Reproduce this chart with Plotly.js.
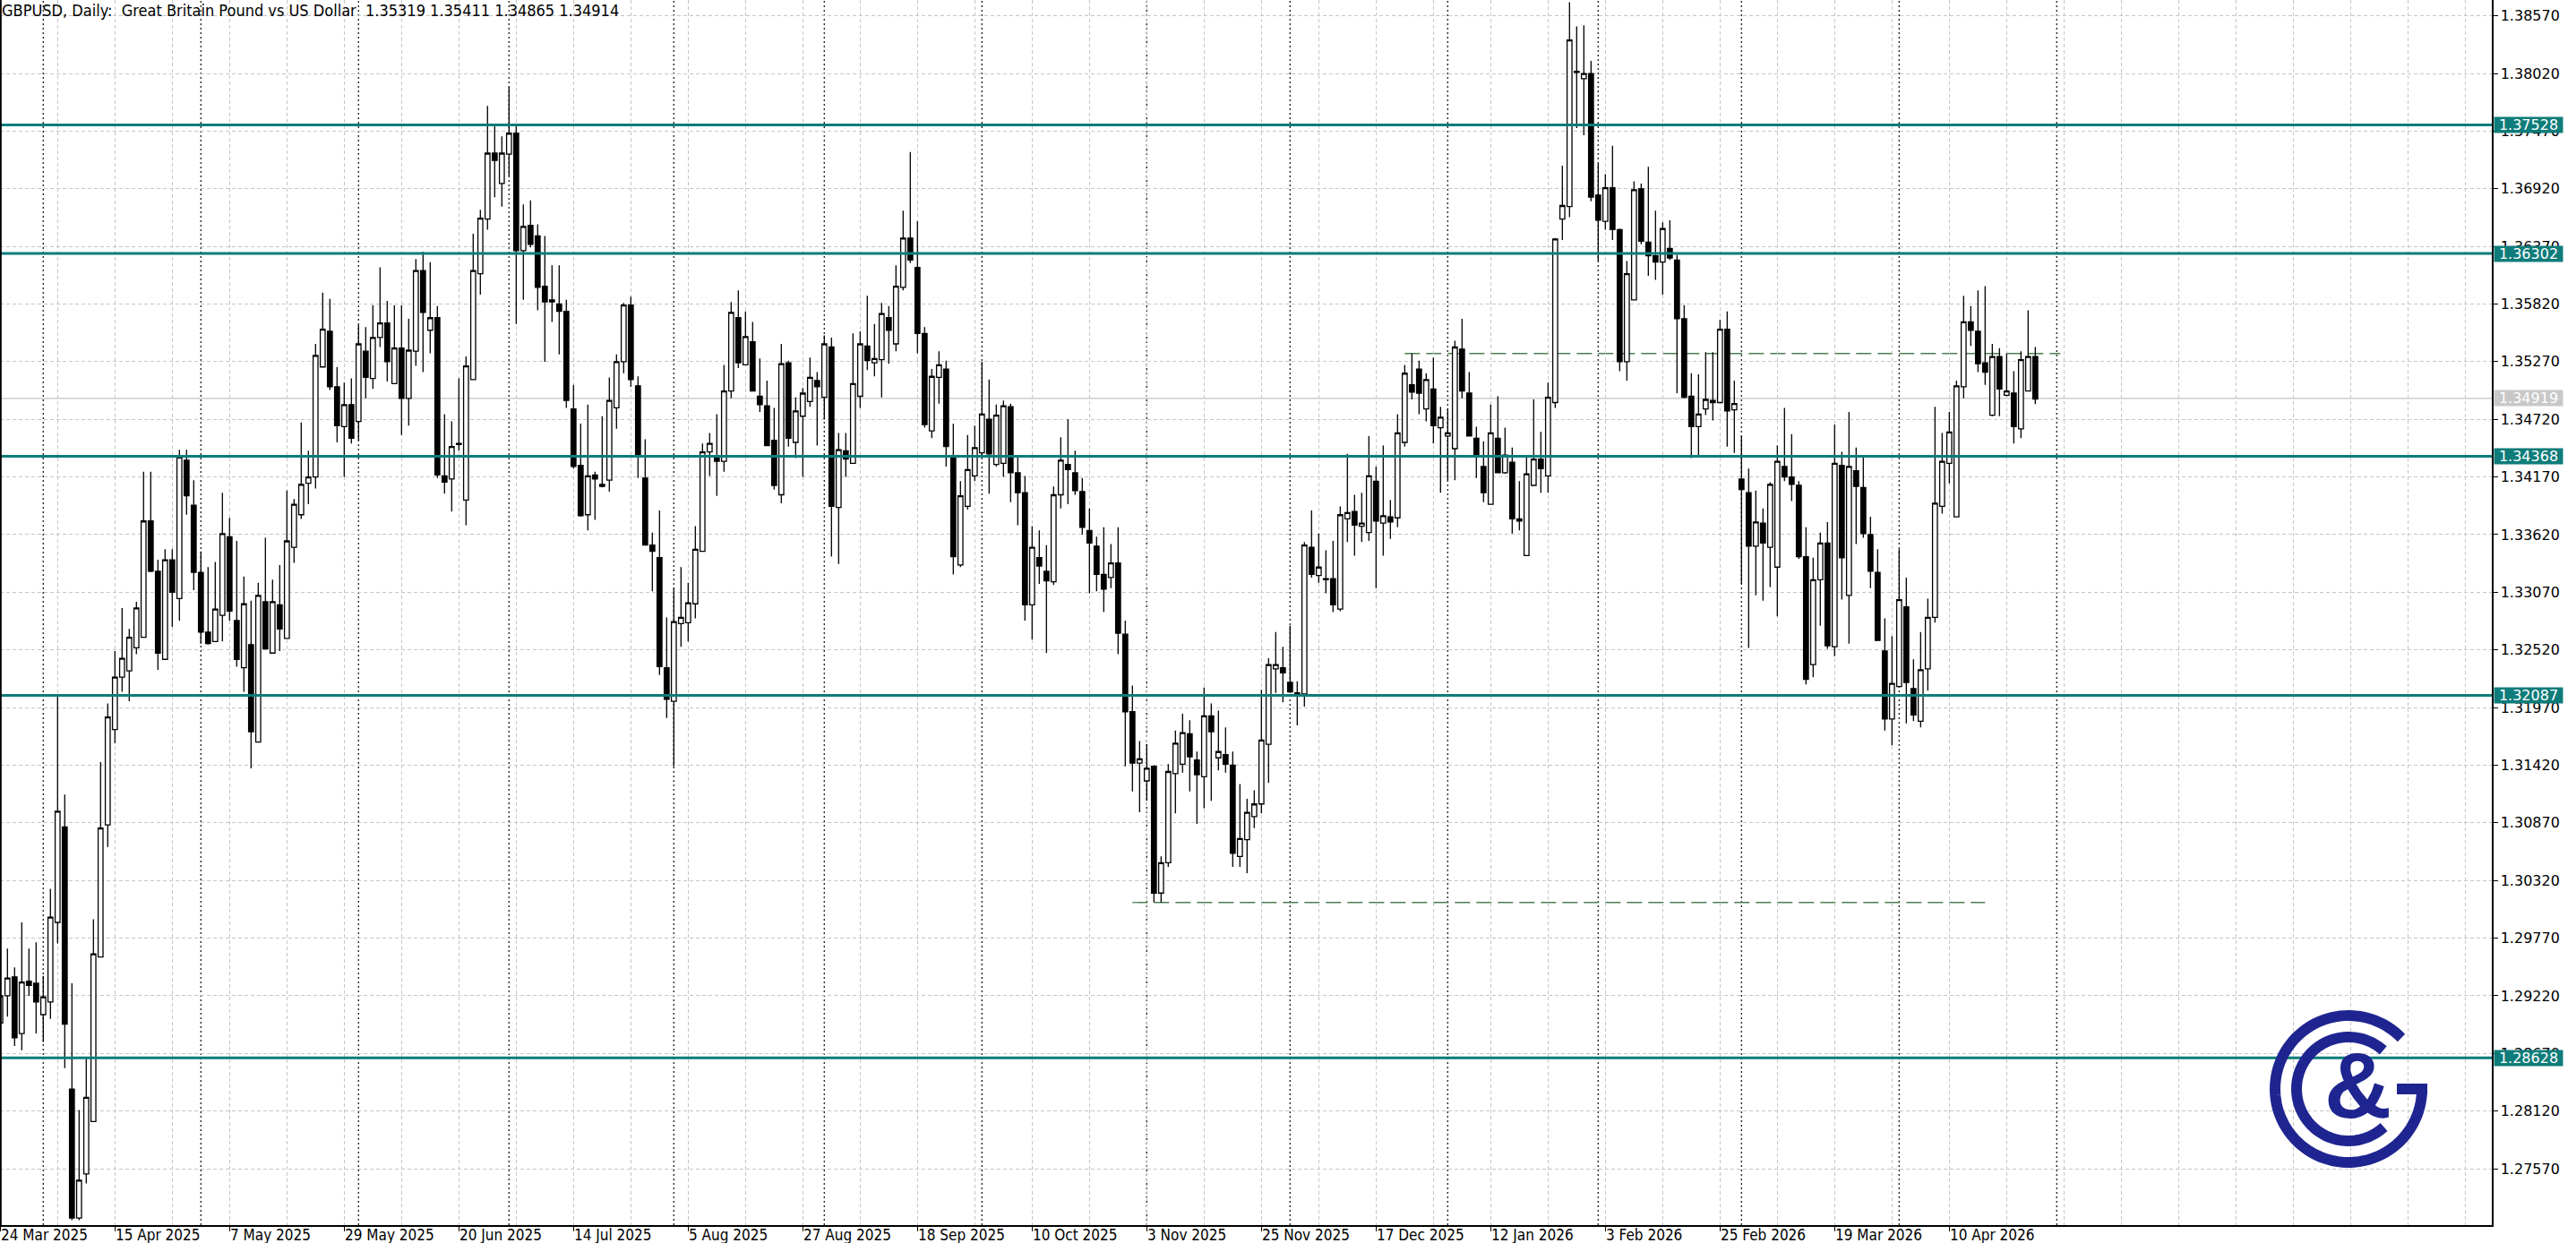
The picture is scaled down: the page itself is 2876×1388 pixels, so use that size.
<!DOCTYPE html>
<html>
<head>
<meta charset="utf-8">
<script src="https://cdn.plot.ly/plotly-3.0.1.min.js"></script>
<style>
  html, body { margin: 0; padding: 0; background: #ffffff; }
  #chart { width: 2876px; height: 1388px; }
</style>
</head>
<body>
<div id="chart"></div>
<script>
// ---------------- DATA (GBPUSD daily) ----------------
const open = [
1.2896,1.2922,1.2940,1.2886,1.2936,1.2934,1.2904,1.2916,1.2992,1.3083,
1.2833,1.2710,1.2752,1.2802,1.2959,1.3085,1.3176,1.3226,1.3232,1.3254,
1.3264,1.3375,1.3327,1.3243,1.3338,1.3301,1.3433,1.3390,1.3326,1.3269,
1.3260,1.3285,1.3360,1.3280,1.3235,1.3257,1.3164,1.3298,1.3249,1.3295,
1.3263,1.3350,1.3381,1.3411,1.3417,1.3522,1.3556,1.3503,1.3465,1.3486,
1.3470,1.3537,1.3511,1.3550,1.3564,1.3506,1.3540,1.3492,1.3537,1.3614,
1.3557,1.3569,1.3418,1.3415,1.3448,1.3395,1.3510,1.3611,1.3663,1.3726,
1.3697,1.3725,1.3745,1.3633,1.3657,1.3647,1.3599,1.3584,1.3582,1.3575,
1.3482,1.3428,1.3381,1.3419,1.3410,1.3414,1.3483,1.3527,1.3581,1.3504,
1.3416,1.3352,1.3340,1.3235,1.3203,1.3277,1.3278,1.3296,1.3346,1.3441,
1.3435,1.3432,1.3499,1.3569,1.3524,1.3546,1.3494,1.3485,1.3452,1.3400,
1.3526,1.3450,1.3475,1.3489,1.3509,1.3493,1.3541,1.3388,1.3442,1.3430,
1.3494,1.3542,1.3526,1.3529,1.3569,1.3544,1.3598,1.3645,1.3617,1.3554,
1.3461,1.3512,1.3520,1.3437,1.3333,1.3389,1.3418,1.3440,1.3472,1.3429,
1.3430,1.3484,1.3421,1.3402,1.3295,1.3340,1.3327,1.3317,1.3400,1.3429,
1.3421,1.3403,1.3366,1.3351,1.3324,1.3321,1.3335,1.3267,1.3193,1.3144,
1.3127,1.3141,1.3020,1.3049,1.3134,1.3143,1.3172,1.3147,1.3131,1.3189,
1.3149,1.3152,1.3142,1.3055,1.3071,1.3093,1.3105,1.3162,1.3234,1.3235,
1.3221,1.3211,1.3210,1.3350,1.3323,1.3319,1.3320,1.3291,1.3377,1.3384,
1.3370,1.3364,1.3413,1.3373,1.3379,1.3378,1.3450,1.3505,1.3520,1.3482,
1.3501,1.3464,1.3456,1.3444,1.3539,1.3497,1.3454,1.3427,1.3391,1.3454,
1.3421,1.3431,1.3375,1.3342,1.3409,1.3434,1.3418,1.3488,1.3663,1.3675,
1.3804,1.3797,1.3802,1.3686,1.3661,1.3693,1.3653,1.3527,1.3586,1.3692,
1.3641,1.3628,1.3622,1.3635,1.3624,1.3568,1.3494,1.3465,1.3482,1.3490,
1.3488,1.3558,1.3481,1.3415,1.3402,1.3351,1.3373,1.3350,1.3331,1.3427,
1.3417,1.3409,1.3341,1.3238,1.3319,1.3354,1.3255,1.3428,1.3304,1.3423,
1.3407,1.3362,1.3326,1.3251,1.3186,1.3217,1.3293,1.3215,1.3184,1.3234,
1.3283,1.3389,1.3430,1.3379,1.3503,1.3565,1.3556,1.3526,1.3476,1.3532,
1.3495,1.3497,1.3463,1.3499,1.35319
];
const high = [
1.2925,1.2967,1.2949,1.2992,1.2967,1.2973,1.2941,1.3024,1.3208,1.3114,
1.2934,1.2813,1.2863,1.2995,1.3145,1.3201,1.3251,1.3292,1.3272,1.3298,
1.3422,1.3422,1.3338,1.3348,1.3348,1.3443,1.3443,1.3414,1.3346,1.3331,
1.3336,1.3402,1.3378,1.3356,1.3322,1.3299,1.3316,1.3359,1.3319,1.3333,
1.3404,1.3396,1.3469,1.3442,1.3544,1.3593,1.3587,1.3522,1.3507,1.3511,
1.3562,1.3560,1.3581,1.3617,1.3585,1.3581,1.3581,1.3568,1.3625,1.3632,
1.3622,1.3580,1.3477,1.3470,1.3511,1.3532,1.3649,1.3672,1.3771,1.3752,
1.3742,1.3789,1.3752,1.3677,1.3681,1.3658,1.3647,1.3619,1.3619,1.3586,
1.3505,1.3468,1.3486,1.3422,1.3475,1.3512,1.3534,1.3583,1.3589,1.3513,
1.3453,1.3364,1.3385,1.3283,1.3311,1.3331,1.3316,1.3370,1.3449,1.3459,
1.3477,1.3524,1.3584,1.3595,1.3575,1.3565,1.3530,1.3509,1.3483,1.3544,
1.3528,1.3493,1.3502,1.3531,1.3517,1.3552,1.3550,1.3459,1.3459,1.3554,
1.3556,1.3590,1.3563,1.3583,1.3580,1.3619,1.3671,1.3727,1.3661,1.3560,
1.3520,1.3537,1.3528,1.3468,1.3413,1.3457,1.3466,1.3527,1.3510,1.3486,
1.3490,1.3487,1.3437,1.3418,1.3370,1.3366,1.3352,1.3408,1.3455,1.3472,
1.3442,1.3416,1.3387,1.3360,1.3369,1.3353,1.3369,1.3280,1.3218,1.3165,
1.3162,1.3142,1.3055,1.3143,1.3175,1.3191,1.3185,1.3155,1.3216,1.3201,
1.3194,1.3178,1.3155,1.3124,1.3110,1.3118,1.3214,1.3244,1.3269,1.3255,
1.3275,1.3222,1.3355,1.3385,1.3363,1.3347,1.3356,1.3389,1.3439,1.3400,
1.3402,1.3456,1.3427,1.3447,1.3395,1.3477,1.3524,1.3535,1.3528,1.3516,
1.3531,1.3484,1.3482,1.3547,1.3568,1.3517,1.3465,1.3451,1.3486,1.3494,
1.3464,1.3445,1.3413,1.3436,1.3491,1.3460,1.3507,1.3645,1.3714,1.3870,
1.3847,1.3848,1.3814,1.3716,1.3706,1.3733,1.3654,1.3623,1.3699,1.3697,
1.3713,1.3671,1.3660,1.3662,1.3629,1.3581,1.3516,1.3515,1.3536,1.3536,
1.3567,1.3575,1.3509,1.3456,1.3425,1.3404,1.3387,1.3412,1.3447,1.3483,
1.3458,1.3413,1.3369,1.3340,1.3364,1.3374,1.3467,1.3441,1.3479,1.3445,
1.3436,1.3379,1.3348,1.3282,1.3265,1.3348,1.3321,1.3243,1.3269,1.3301,
1.3484,1.3459,1.3479,1.3509,1.3590,1.3580,1.3595,1.3599,1.3544,1.3540,
1.3535,1.3518,1.3537,1.3576,1.35411
];
const low = [
1.2894,1.2902,1.2874,1.2870,1.2922,1.2886,1.2878,1.2900,1.2972,1.2853,
1.2708,1.2708,1.2743,1.2802,1.2959,1.3064,1.3163,1.3212,1.3203,1.3248,
1.3264,1.3326,1.3233,1.3243,1.3274,1.3280,1.3381,1.3309,1.3258,1.3257,
1.3260,1.3260,1.3280,1.3236,1.3212,1.3139,1.3164,1.3253,1.3249,1.3251,
1.3263,1.3335,1.3377,1.3391,1.3406,1.3522,1.3500,1.3450,1.3417,1.3449,
1.3452,1.3492,1.3501,1.3541,1.3508,1.3506,1.3457,1.3466,1.3523,1.3517,
1.3535,1.3416,1.3401,1.3384,1.3442,1.3371,1.3510,1.3591,1.3653,1.3684,
1.3675,1.3704,1.3563,1.3586,1.3636,1.3576,1.3527,1.3565,1.3534,1.3483,
1.3425,1.3379,1.3366,1.3376,1.3407,1.3403,1.3463,1.3516,1.3503,1.3416,
1.3352,1.3308,1.3228,1.3187,1.3141,1.3255,1.3260,1.3282,1.3346,1.3418,
1.3399,1.3422,1.3492,1.3521,1.3524,1.3499,1.3479,1.3447,1.3405,1.3392,
1.3446,1.3435,1.3417,1.3484,1.3447,1.3472,1.3341,1.3334,1.3417,1.3430,
1.3483,1.3519,1.3513,1.3493,1.3525,1.3537,1.3595,1.3621,1.3535,1.3464,
1.3454,1.3487,1.3427,1.3324,1.3331,1.3386,1.3413,1.3437,1.3401,1.3427,
1.3417,1.3393,1.3371,1.3280,1.3262,1.3315,1.3249,1.3314,1.3387,1.3391,
1.3400,1.3362,1.3306,1.3308,1.3288,1.3311,1.3248,1.3141,1.3117,1.3097,
1.3108,1.3011,1.3011,1.3045,1.3096,1.3135,1.3117,1.3086,1.3101,1.3108,
1.3137,1.3135,1.3045,1.3045,1.3039,1.3082,1.3096,1.3125,1.3211,1.3202,
1.3211,1.3180,1.3198,1.3321,1.3316,1.3306,1.3288,1.3289,1.3355,1.3342,
1.3355,1.3356,1.3311,1.3342,1.3358,1.3369,1.3446,1.3491,1.3477,1.3470,
1.3449,1.3402,1.3414,1.3414,1.3492,1.3456,1.3416,1.3393,1.3391,1.3421,
1.3420,1.3363,1.3366,1.3342,1.3409,1.3402,1.3402,1.3483,1.3643,1.3665,
1.3750,1.3743,1.3680,1.3623,1.3653,1.3643,1.3518,1.3509,1.3586,1.3639,
1.3609,1.3605,1.3591,1.3624,1.3497,1.3492,1.3435,1.3437,1.3476,1.3471,
1.3488,1.3446,1.3440,1.3315,1.3254,1.3304,1.3299,1.3312,1.3284,1.3413,
1.3394,1.3339,1.3219,1.3226,1.3275,1.3253,1.3246,1.3300,1.3258,1.3353,
1.3359,1.3311,1.3261,1.3175,1.3161,1.3217,1.3182,1.3184,1.3178,1.3213,
1.3278,1.3382,1.3411,1.3379,1.3492,1.3542,1.3517,1.3505,1.3475,1.3475,
1.3494,1.3449,1.3454,1.3499,1.34865
];
const close = [
1.2922,1.2939,1.2882,1.2935,1.2932,1.2916,1.2921,1.2997,1.3098,1.2895,
1.2710,1.2746,1.2825,1.2962,1.3082,1.3188,1.3226,1.3244,1.3264,1.3292,
1.3375,1.3327,1.3249,1.3338,1.3307,1.3436,1.3399,1.3326,1.3269,1.3258,
1.3291,1.3363,1.3289,1.3243,1.3296,1.3174,1.3304,1.3253,1.3298,1.3272,
1.3356,1.3391,1.3410,1.3417,1.3533,1.3558,1.3503,1.3466,1.3486,1.3454,
1.3544,1.3512,1.3550,1.3564,1.3527,1.3540,1.3492,1.3538,1.3614,1.3574,
1.3569,1.3419,1.3412,1.3446,1.3449,1.3523,1.3614,1.3664,1.3726,1.3719,
1.3726,1.3745,1.3633,1.3656,1.3639,1.3598,1.3584,1.3586,1.3575,1.3490,
1.3427,1.3380,1.3418,1.3415,1.3408,1.3490,1.3527,1.3581,1.3510,1.3438,
1.3352,1.3346,1.3236,1.3205,1.3279,1.3283,1.3297,1.3348,1.3441,1.3449,
1.3432,1.3499,1.3574,1.3526,1.3551,1.3499,1.3486,1.3447,1.3409,1.3525,
1.3454,1.3480,1.3497,1.3512,1.3503,1.3544,1.3389,1.3443,1.3434,1.3506,
1.3544,1.3528,1.3530,1.3573,1.3557,1.3599,1.3645,1.3624,1.3554,1.3467,
1.3513,1.3524,1.3446,1.3341,1.3399,1.3424,1.3445,1.3477,1.3439,1.3476,
1.3485,1.3421,1.3402,1.3295,1.3350,1.3332,1.3318,1.3400,1.3433,1.3424,
1.3404,1.3369,1.3354,1.3324,1.3310,1.3335,1.3268,1.3193,1.3144,1.3148,
1.3139,1.3020,1.3049,1.3136,1.3163,1.3173,1.3150,1.3133,1.3189,1.3174,
1.3155,1.3143,1.3058,1.3072,1.3097,1.3105,1.3166,1.3238,1.3238,1.3230,
1.3212,1.3210,1.3352,1.3324,1.3331,1.3320,1.3295,1.3381,1.3383,1.3371,
1.3373,1.3418,1.3375,1.3380,1.3374,1.3459,1.3516,1.3498,1.3497,1.3510,
1.3466,1.3474,1.3459,1.3541,1.3499,1.3456,1.3438,1.3402,1.3459,1.3421,
1.3438,1.3377,1.3377,1.3420,1.3434,1.3425,1.3493,1.3644,1.3676,1.3834,
1.3803,1.3802,1.3684,1.3662,1.3693,1.3653,1.3527,1.3611,1.3691,1.3642,
1.3628,1.3622,1.3654,1.3626,1.3568,1.3493,1.3465,1.3477,1.3491,1.3488,
1.3558,1.3480,1.3487,1.3405,1.3351,1.3374,1.3354,1.3410,1.3432,1.3417,
1.3410,1.3341,1.3224,1.3319,1.3354,1.3256,1.3430,1.3340,1.3427,1.3408,
1.3363,1.3327,1.3261,1.3186,1.3220,1.3300,1.3221,1.3190,1.3233,1.3283,
1.3392,1.3432,1.3460,1.3504,1.3565,1.3557,1.3525,1.3517,1.3532,1.3501,
1.3499,1.3465,1.3529,1.3532,1.34914
];

// date labels on the time axis and the bar they sit on
const dateLabels = ["24 Mar 2025","15 Apr 2025","7 May 2025","29 May 2025","20 Jun 2025",
  "14 Jul 2025","5 Aug 2025","27 Aug 2025","18 Sep 2025","10 Oct 2025","3 Nov 2025",
  "25 Nov 2025","17 Dec 2025","12 Jan 2026","3 Feb 2026","25 Feb 2026","19 Mar 2026","10 Apr 2026"];
const dateLabelBars = [0,16,32,48,64,80,96,112,128,144,160,176,192,208,224,240,256,272];

// price scale ticks
const priceTicks = [1.27570,1.28120,1.28670,1.29220,1.29770,1.30320,1.30870,1.31420,1.31970,
  1.32520,1.33070,1.33620,1.34170,1.34720,1.35270,1.35820,1.36370,1.36920,1.37470,1.38020,1.38570];

// horizontal support / resistance levels
const levels = [1.37528, 1.36302, 1.34368, 1.32087, 1.28628];
const currentPrice = 1.34919;

// month separators (first bar of each month)
const monthStartBars = [6,28,50,71,94,115,137,160,180,202,223,243,265,287];

// dashed marker lines: [startBar, endBar, price]
const dashedLines = [[196, 287.5, 1.35348], [158, 277, 1.30110]];

const titleText = "GBPUSD,\u00A0Daily:\u00A0\u00A0Great Britain Pound vs US Dollar\u00A0\u00A01.35319 1.35411 1.34865 1.34914";

// ---------------- STYLE ----------------
const TEAL = "#0e7c7a";
const NAVY = "#1f2590";
const GRID = "#c6c6c6";
const FONT = "DejaVu Sans, Liberation Sans, sans-serif";
const CFONT = "DejaVu Sans Condensed, Liberation Sans Narrow, DejaVu Sans, sans-serif";
const PW = 2782, PH = 1368;   // plot area size in px

const bars = close.map((_, i) => i);

const trace = {
  type: "candlestick",
  x: bars, open: open, high: high, low: low, close: close,
  increasing: { line: { color: "#000000", width: 1.3 }, fillcolor: "#ffffff" },
  decreasing: { line: { color: "#000000", width: 1.3 }, fillcolor: "#000000" },
  whiskerwidth: 0,
  hoverinfo: "skip",
  showlegend: false
};

const shapes = [];
// current price line
shapes.push({ type: "line", xref: "paper", x0: 0, x1: 1, yref: "y", y0: currentPrice, y1: currentPrice,
  line: { color: "#c4c4c4", width: 1.2 }, layer: "below" });
// month separators
monthStartBars.forEach(b => shapes.push({ type: "line", xref: "x", x0: b, x1: b, yref: "paper", y0: 0, y1: 1,
  line: { color: "#2a2a2a", width: 1.4, dash: "2px,3px" }, layer: "below" }));
// dashed marker lines
dashedLines.forEach(d => shapes.push({ type: "line", xref: "x", x0: d[0], x1: d[1], yref: "y", y0: d[2], y1: d[2],
  line: { color: "#4d7d52", width: 1.3, dash: "17px,7px" }, layer: "below" }));
// support/resistance lines
levels.forEach(v => shapes.push({ type: "line", xref: "paper", x0: 0, x1: 1, yref: "y", y0: v, y1: v,
  line: { color: TEAL, width: 3 }, layer: "above" }));
// left frame line
shapes.push({ type: "line", xref: "paper", x0: 0.0003, x1: 0.0003, yref: "paper", y0: 0, y1: 1,
  line: { color: "#000", width: 2 }, layer: "above" });

// logo (G & rings) drawn as thick arcs in pixel space, converted to paper coords
function px2paper(x, y) { return (x / PW).toFixed(5) + "," + (1 - y / PH).toFixed(5); }
function arc(cx, cy, r, a0, a1) {
  let d = ""; const n = 90;
  for (let i = 0; i <= n; i++) {
    const a = (a0 + (a1 - a0) * i / n) * Math.PI / 180;
    d += (i ? " L" : "M") + px2paper(cx + r * Math.cos(a), cy - r * Math.sin(a));
  }
  return d;
}
const LCX = 2622, LCY = 1216;
shapes.push({ type: "path", xref: "paper", yref: "paper", path: arc(LCX, LCY, 82, 44, 360),
  line: { color: NAVY, width: 12 }, layer: "above" });
shapes.push({ type: "path", xref: "paper", yref: "paper", path: arc(LCX, LCY, 58, 48, 313),
  line: { color: NAVY, width: 12 }, layer: "above" });
shapes.push({ type: "path", xref: "paper", yref: "paper",
  path: "M" + px2paper(LCX + 54, LCY) + " L" + px2paper(LCX + 88, LCY),
  line: { color: NAVY, width: 12 }, layer: "above" });

const annotations = [];
annotations.push({ xref: "paper", yref: "paper", x: 0, y: 1, xanchor: "left", yanchor: "top",
  xshift: 1, yshift: 0, borderpad: 0, showarrow: false, text: titleText, font: { family: CFONT, size: 18, color: "#000" } });
dateLabels.forEach((t, i) => annotations.push({ xref: "x", yref: "paper", x: dateLabelBars[i], y: 0,
  xanchor: "left", yanchor: "top", yshift: 0, borderpad: 0, showarrow: false, text: t,
  font: { family: CFONT, size: 17, color: "#000" } }));
levels.forEach(v => annotations.push({ xref: "paper", yref: "y", x: 1, y: v, xanchor: "left", yanchor: "middle",
  xshift: 2, showarrow: false, text: v.toFixed(5), bgcolor: TEAL, borderpad: 1, width: 74, height: 15,
  font: { family: FONT, size: 16, color: "#ffffff" } }));
annotations.push({ xref: "paper", yref: "y", x: 1, y: currentPrice, xanchor: "left", yanchor: "middle",
  xshift: 2, showarrow: false, text: currentPrice.toFixed(5), bgcolor: "#c8c8c8", borderpad: 1, width: 74, height: 15,
  font: { family: FONT, size: 16, color: "#ffffff" } });
// ampersand of the logo
annotations.push({ xref: "paper", yref: "paper", x: (LCX + 10) / PW, y: 1 - (LCY - 4) / PH,
  xanchor: "center", yanchor: "middle", showarrow: false, text: "<b>&amp;</b>",
  font: { family: "Liberation Sans, Arial, sans-serif", size: 104, color: NAVY } });

const layout = {
  width: 2876, height: 1388,
  margin: { l: 0, r: 94, t: 0, b: 20, pad: 0 },
  paper_bgcolor: "#ffffff", plot_bgcolor: "#ffffff",
  showlegend: false, dragmode: false,
  boxgap: 0.32, boxgroupgap: 0,
  xaxis: {
    range: [-0.0375, 347.71], autorange: false, fixedrange: true,
    rangeslider: { visible: false },
    tickmode: "array", tickvals: dateLabelBars, showticklabels: false,
    ticks: "outside", ticklen: 5, tickcolor: "#000", tickwidth: 1,
    showgrid: true, gridcolor: GRID, gridwidth: 1, griddash: "4px,3px",
    minor: { tickmode: "linear", tick0: 0, dtick: 8, showgrid: true, gridcolor: GRID, gridwidth: 1, griddash: "4px,3px", ticks: "" },
    showline: true, linecolor: "#000", linewidth: 1.5, zeroline: false
  },
  yaxis: {
    side: "right", range: [1.27032, 1.38721], autorange: false, fixedrange: true,
    tickmode: "array", tickvals: priceTicks, tickformat: ".5f",
    ticks: "outside", ticklen: 5, tickcolor: "#000", tickwidth: 1,
    tickfont: { family: FONT, size: 16, color: "#000" },
    showgrid: true, gridcolor: GRID, gridwidth: 1, griddash: "4px,3px",
    showline: true, linecolor: "#000", linewidth: 1.5, zeroline: false
  },
  shapes: shapes,
  annotations: annotations
};

Plotly.newPlot("chart", [trace], layout, { displayModeBar: false, staticPlot: true });
</script>
</body>
</html>
